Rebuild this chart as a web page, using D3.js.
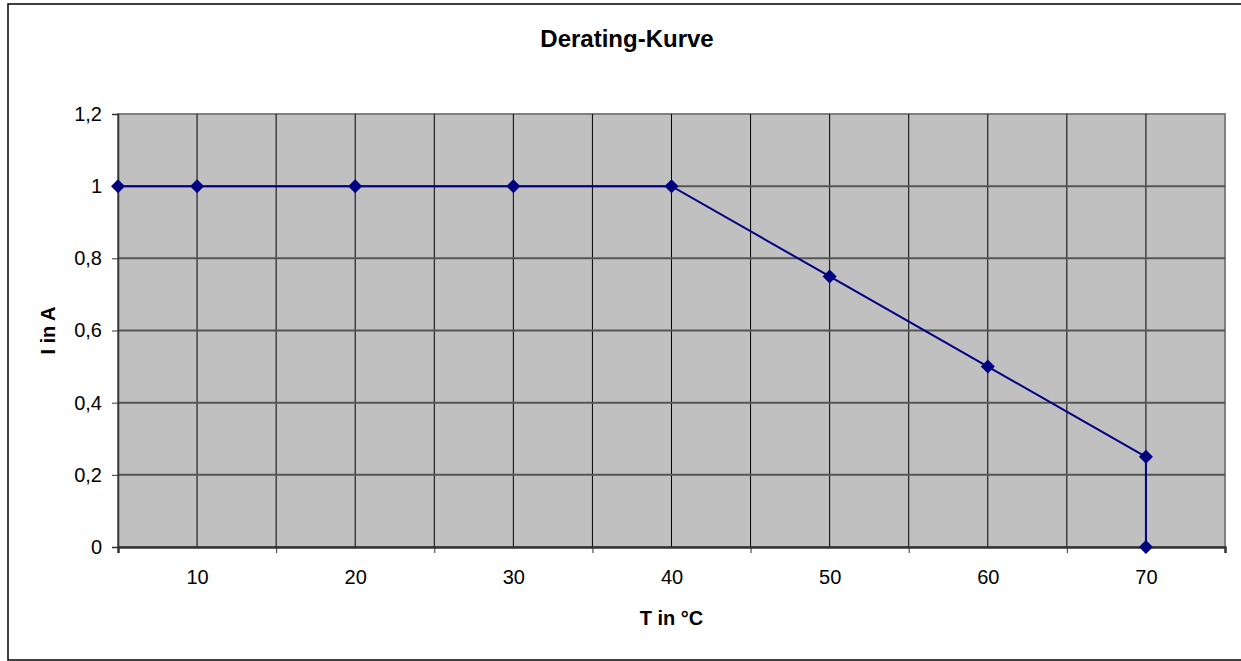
<!DOCTYPE html>
<html>
<head>
<meta charset="utf-8">
<script src="https://cdn.jsdelivr.net/npm/d3@7"></script>
<style>
  body { margin: 0; background: #fff; }
  text { font-family: "Liberation Sans", Arial, sans-serif; }
</style>
</head>
<body>
<div id="chart"></div>
<script>
// Derating-Kurve: current vs. temperature
const temps    = [5, 10, 20, 30, 40, 50, 60, 70, 70]
const currents = [1, 1, 1, 1, 1, 0.75, 0.5, 0.25, 0]
const xLabelTicks = [10, 20, 30, 40, 50, 60, 70]
const xMinorTicks = [5, 15, 25, 35, 45, 55, 65, 75]
const xGridTicks  = [10, 15, 20, 25, 30, 35, 40, 45, 50, 55, 60, 65, 70]
const yTicks = [0, 0.2, 0.4, 0.6, 0.8, 1, 1.2]

const W = 1241, H = 661
const margin = {top: 114, right: 16, bottom: 114, left: 118}
const width = W - margin.left - margin.right
const height = H - margin.top - margin.bottom

const de = d3.formatLocale({decimal: ",", thousands: ".", grouping: [3], currency: ["", " €"]})
const fmt = de.format("~g")

const svg = d3.select("#chart").append("svg")
  .attr("width", W)
  .attr("height", H)

// outer chart frame
svg.append("rect")
  .attr("x", 8).attr("y", 4)
  .attr("width", W + 10).attr("height", 656)
  .attr("fill", "#fff")
  .attr("stroke", "#000")
  .attr("stroke-width", 1.5)

const g = svg.append("g")
  .attr("transform", "translate(" + margin.left + "," + margin.top + ")")

const x = d3.scaleLinear().domain([5, 75]).range([0, width])
const y = d3.scaleLinear().domain([0, 1.2]).range([height, 0])

// plot area
g.append("rect")
  .attr("width", width).attr("height", height)
  .attr("fill", "#c0c0c0")
  .attr("stroke", "#808080")
  .attr("stroke-width", 2)

// vertical gridlines
g.selectAll(".vgrid")
  .data(xGridTicks)
  .enter().append("line")
    .attr("class", "vgrid")
    .attr("x1", d => x(d)).attr("x2", d => x(d))
    .attr("y1", 0).attr("y2", height)
    .attr("stroke", "#000")
    .attr("stroke-width", 1)

// horizontal gridlines
g.selectAll(".hgrid")
  .data(yTicks.slice(1, -1))
  .enter().append("line")
    .attr("class", "hgrid")
    .attr("x1", 0).attr("x2", width)
    .attr("y1", d => y(d)).attr("y2", d => y(d))
    .attr("stroke", "#555")
    .attr("stroke-width", 2)

// y axis
const yAxis = g.append("g")
  .call(d3.axisLeft(y).tickValues(yTicks).tickSize(6).tickPadding(10).tickFormat(fmt))
yAxis.select(".domain").attr("stroke", "#333").attr("stroke-width", 1.5)
yAxis.selectAll(".tick line").attr("stroke", "#333")
yAxis.selectAll("text").attr("font-size", 20).attr("fill", "#000")

// x axis: ticks at 5,15,... and labels at 10,20,...
const xAxis = g.append("g")
  .attr("transform", "translate(0," + height + ")")
  .call(d3.axisBottom(x).tickValues(xMinorTicks).tickSize(6).tickFormat(""))
xAxis.select(".domain").attr("stroke", "#333").attr("stroke-width", 2.5)
xAxis.selectAll(".tick line").attr("stroke", "#333")

const xLab = g.append("g")
  .attr("transform", "translate(0," + height + ")")
  .call(d3.axisBottom(x).tickValues(xLabelTicks).tickSize(0).tickPadding(23).tickFormat(fmt))
xLab.select(".domain").remove()
xLab.selectAll("text").attr("font-size", 20).attr("fill", "#000")

// line
const pts = temps.map((t, i) => [t, currents[i]])
const line = d3.line().x(d => x(d[0])).y(d => y(d[1]))

g.append("path")
  .datum(pts)
  .attr("d", line)
  .attr("fill", "none")
  .attr("stroke", "#000080")
  .attr("stroke-width", 2)

// diamond markers
g.selectAll(".marker")
  .data(pts)
  .enter().append("path")
    .attr("class", "marker")
    .attr("d", "M0,-7L7,0L0,7L-7,0Z")
    .attr("transform", d => "translate(" + x(d[0]) + "," + y(d[1]) + ")")
    .attr("fill", "#000080")

// titles
svg.append("text")
  .attr("x", 627).attr("y", 47)
  .attr("text-anchor", "middle")
  .attr("font-size", 24).attr("font-weight", "bold")
  .text("Derating-Kurve")

svg.append("text")
  .attr("x", margin.left + width / 2).attr("y", 625)
  .attr("text-anchor", "middle")
  .attr("font-size", 20).attr("font-weight", "bold")
  .text("T in °C")

svg.append("text")
  .attr("transform", "translate(55," + (margin.top + height / 2) + ") rotate(-90)")
  .attr("text-anchor", "middle")
  .attr("font-size", 20).attr("font-weight", "bold")
  .text("I in A")
</script>
</body>
</html>
